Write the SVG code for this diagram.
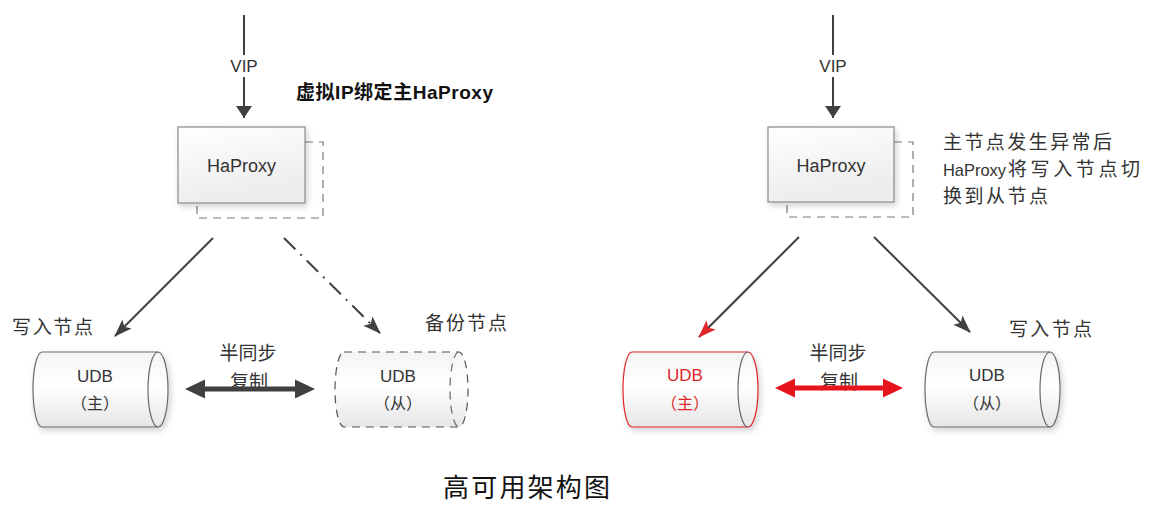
<svg xmlns="http://www.w3.org/2000/svg" width="1155" height="512" viewBox="0 0 1155 512">
<style>
.lat{font-family:"Liberation Sans",Arial,sans-serif;fill:#333}
.cjk{font-family:"Noto Sans CJK SC",sans-serif;fill:#333}
.box{fill:url(#gBox);stroke:#8a8a8a;stroke-width:1.2}
.shd{fill:none;stroke:#7a7a7a;stroke-width:1.2;stroke-dasharray:8 6}
.cyl{fill:url(#gCyl);stroke:#6a6a6a;stroke-width:1.2}
.cylred{fill:url(#gCyl);stroke:#e0262a;stroke-width:1.2}
.cyldash{fill:url(#gCyl);stroke:#555;stroke-width:1.2;stroke-dasharray:8 6}
.inner{fill:none;stroke:#6a6a6a;stroke-width:1.2}
.ln{stroke:#404040;stroke-width:2;fill:none}
</style>
<defs>
<linearGradient id="gBox" x1="0" y1="0" x2="0.3" y2="1"><stop offset="0" stop-color="#ffffff"/><stop offset="1" stop-color="#ececec"/></linearGradient>
<linearGradient id="gCyl" x1="0" y1="0" x2="0" y2="1"><stop offset="0" stop-color="#f4f4f4"/><stop offset="0.45" stop-color="#ffffff"/><stop offset="1" stop-color="#e6e6e6"/></linearGradient>
<filter id="sh" x="-20%" y="-20%" width="140%" height="140%"><feDropShadow dx="2" dy="3" stdDeviation="3" flood-color="#000" flood-opacity="0.18"/></filter>
<marker id="ah" viewBox="0 0 18 13" refX="17" refY="6.5" markerWidth="18" markerHeight="13" markerUnits="userSpaceOnUse" orient="auto"><path d="M0,0 L18,6.5 L0,13 L4,6.5 Z" fill="#404040"/></marker>
<marker id="ahr" viewBox="0 0 18 13" refX="17" refY="6.5" markerWidth="18" markerHeight="13" markerUnits="userSpaceOnUse" orient="auto"><path d="M0,0 L18,6.5 L0,13 L4,6.5 Z" fill="#e0262a"/></marker>
<marker id="ahv" viewBox="0 0 12 16" refX="12" refY="8" markerWidth="12" markerHeight="16" markerUnits="userSpaceOnUse" orient="auto"><path d="M0,0 L12,8 L0,16 Z" fill="#404040"/></marker>
</defs>
<rect width="1155" height="512" fill="#ffffff"/>

<!-- left HaProxy -->
<g id="haproxy-left">
<path class="shd" d="M305,142 H323 V218 H197 V203"/>
<rect class="box" x="178" y="127" width="127" height="76" filter="url(#sh)"/>
<text class="lat" x="241.5" y="172" font-size="18" text-anchor="middle">HaProxy</text>
</g>
<!-- right HaProxy -->
<g id="haproxy-right">
<path class="shd" d="M894,142 H913 V217 H787 V202"/>
<rect class="box" x="768" y="127" width="126" height="75" filter="url(#sh)"/>
<text class="lat" x="831" y="172" font-size="18" text-anchor="middle">HaProxy</text>
</g>

<!-- left UDB master -->
<g id="udb-master-left">
<path class="cyl" filter="url(#sh)" d="M42,352 H158 A10,37.5 0 0 1 158,427 H42 A9,37.5 0 0 1 42,352 Z"/>
<path class="inner" d="M158,352 A10,37.5 0 0 0 158,427"/>
<text class="lat" x="95" y="382" font-size="17" text-anchor="middle">UDB</text>
<text class="cjk" x="95" y="409" font-size="16" text-anchor="middle">（主）</text>
</g>
<!-- left UDB backup (dashed) -->
<g id="udb-backup-left">
<path class="cyldash" d="M344,352 H459 A9,37.5 0 0 1 459,427 H344 A9,37.5 0 0 1 344,352 Z"/>
<path class="inner" stroke-dasharray="8 6" stroke="#555" d="M459,352 A9,37.5 0 0 0 459,427"/>
<text class="lat" x="398" y="382" font-size="17" text-anchor="middle">UDB</text>
<text class="cjk" x="398" y="409" font-size="16" text-anchor="middle">（从）</text>
</g>
<!-- right UDB master (failed, red) -->
<g id="udb-master-right">
<path class="cylred" filter="url(#sh)" d="M632,352 H748 A10,37.5 0 0 1 748,427 H632 A9,37.5 0 0 1 632,352 Z"/>
<path class="inner" stroke="#e0262a" d="M748,352 A10,37.5 0 0 0 748,427"/>
<text class="lat" x="685" y="381" font-size="17" text-anchor="middle" style="fill:#e0262a">UDB</text>
<text class="cjk" x="685" y="409" font-size="16" text-anchor="middle" style="fill:#e0262a">（主）</text>
</g>
<!-- right UDB slave -->
<g id="udb-slave-right">
<path class="cyl" filter="url(#sh)" d="M934,352 H1050 A10,37.5 0 0 1 1050,427 H934 A9,37.5 0 0 1 934,352 Z"/>
<path class="inner" d="M1050,352 A10,37.5 0 0 0 1050,427"/>
<text class="lat" x="987" y="381" font-size="17" text-anchor="middle">UDB</text>
<text class="cjk" x="987" y="409" font-size="16" text-anchor="middle">（从）</text>
</g>

<!-- labels -->
<g id="labels">
<text class="cjk" x="296" y="99" font-size="19" font-weight="bold" style="fill:#111" textLength="197" lengthAdjust="spacing">虚拟<tspan font-family="Liberation Sans, Arial, sans-serif">IP</tspan>绑定主<tspan font-family="Liberation Sans, Arial, sans-serif">HaProxy</tspan></text>
<text class="cjk" x="12" y="334" font-size="19" textLength="81" lengthAdjust="spacing">写入节点</text>
<text class="cjk" x="425" y="330" font-size="19" textLength="82" lengthAdjust="spacing">备份节点</text>
<text class="cjk" x="1009" y="336" font-size="19" textLength="83" lengthAdjust="spacing">写入节点</text>
<text class="cjk" x="248" y="360" font-size="19" text-anchor="middle">半同步</text>
<text class="cjk" x="249" y="389" font-size="19" text-anchor="middle">复制</text>
<text class="cjk" x="838" y="360" font-size="19" text-anchor="middle">半同步</text>
<text class="cjk" x="839" y="389" font-size="19" text-anchor="middle">复制</text>
<text class="cjk" x="943" y="149" font-size="19" textLength="169" lengthAdjust="spacing">主节点发生异常后</text>
<text class="lat" x="943" y="176" font-size="17" textLength="63" lengthAdjust="spacingAndGlyphs">HaProxy</text>
<text class="cjk" x="1008" y="176" font-size="19" textLength="132" lengthAdjust="spacing">将写入节点切</text>
<text class="cjk" x="943" y="203" font-size="19" textLength="105" lengthAdjust="spacing">换到从节点</text>
<text class="cjk" x="443" y="497" font-size="26" textLength="167" lengthAdjust="spacing" style="fill:#111">高可用架构图</text>
</g>

<!-- connectors -->
<g id="connectors">
<line class="ln" x1="244" y1="15" x2="244" y2="118" stroke-width="1.5" marker-end="url(#ahv)"/>
<line class="ln" x1="833" y1="15" x2="833" y2="118" stroke-width="1.5" marker-end="url(#ahv)"/>
<rect x="228" y="55" width="32" height="22" fill="#fff"/>
<rect x="817" y="55" width="32" height="22" fill="#fff"/>
<text class="lat" x="244" y="72" font-size="17" text-anchor="middle">VIP</text>
<text class="lat" x="833" y="72" font-size="17" text-anchor="middle">VIP</text>
<line class="ln" x1="213" y1="238" x2="115" y2="336" marker-end="url(#ah)"/>
<line class="ln" x1="284" y1="238" x2="380" y2="333" stroke-dasharray="16 7 2 7" marker-end="url(#ah)"/>
<line class="ln" x1="799" y1="237" x2="699" y2="337" stroke="#e0262a" marker-end="url(#ahr)"/>
<line class="ln" x1="874" y1="237" x2="970" y2="332" marker-end="url(#ah)"/>
<path d="M185,389 L205,379.5 L205,386.5 L295,386.5 L295,379.5 L315,389 L295,398.5 L295,391.5 L205,391.5 L205,398.5 Z" fill="#404040"/>
<path d="M775,388 L795,378.5 L795,385.5 L883,385.5 L883,378.5 L903,388 L883,397.5 L883,390.5 L795,390.5 L795,397.5 Z" fill="#e8141c"/>
</g>
</svg>
